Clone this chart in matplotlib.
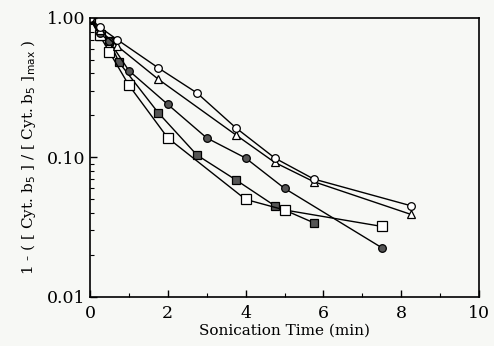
import numpy as np
import matplotlib.pyplot as plt

# open circles
t_oc = [0, 0.25, 0.7, 1.75, 2.75, 3.75, 4.75, 5.75, 8.25]
y_oc = [1.0, 0.86, 0.70, 0.44, 0.29, 0.163, 0.099, 0.070, 0.045]
# open triangles
t_tr = [0, 0.25, 0.7, 1.75, 3.75, 4.75, 5.75, 8.25]
y_tr = [1.0, 0.82, 0.63, 0.365, 0.145, 0.092, 0.067, 0.039]
# filled circles
t_fc = [0, 0.25, 0.5, 1.0, 2.0, 3.0, 4.0, 5.0, 7.5]
y_fc = [1.0, 0.78, 0.68, 0.42, 0.24, 0.138, 0.099, 0.060, 0.0225]
# filled squares
t_fs = [0, 0.25, 0.5, 0.75, 1.75, 2.75, 3.75, 4.75, 5.75]
y_fs = [1.0, 0.74, 0.68, 0.48, 0.21, 0.104, 0.069, 0.045, 0.034]
# open squares
t_os = [0, 0.25, 0.5, 1.0, 2.0, 4.0, 5.0, 7.5]
y_os = [1.0, 0.75, 0.57, 0.33, 0.138, 0.050, 0.042, 0.032]

plt.rcParams['font.family'] = 'DejaVu Serif'

fig = plt.figure(figsize=(4.94, 3.46), dpi=100, facecolor='#f7f8f5')
ax = fig.add_axes([0.182, 0.142, 0.788, 0.806])
ax.set_facecolor('#f7f8f5')

kw = dict(color='black', lw=1.0, markersize=5.5, markeredgecolor='black', markeredgewidth=0.9)
ax.plot(t_fs, y_fs, marker='s', markerfacecolor='#555555', **kw)
ax.plot(t_os, y_os, marker='s', markerfacecolor='white', markersize=6.5, color='black', lw=1.0,
        markeredgecolor='black', markeredgewidth=0.9)
ax.plot(t_fc, y_fc, marker='o', markerfacecolor='#555555', **kw)
ax.plot(t_tr, y_tr, marker='^', markerfacecolor='white', **kw)
ax.plot(t_oc, y_oc, marker='o', markerfacecolor='white', **kw)

ax.set_yscale('log')
ax.set_xlim(0, 10)
ax.set_ylim(0.01, 1.0)
ax.set_xticks([0, 2, 4, 6, 8, 10])
ax.set_xticks([1, 3, 5, 7, 9], minor=True)
ax.set_yticks([0.01, 0.1, 1.0])
ax.set_yticklabels(['0.01', '0.10', '1.00'])
ax.tick_params(which='both', direction='in', top=False, right=False, labelsize=12.5)
ax.tick_params(which='major', length=5, width=1)
ax.tick_params(which='minor', length=3, width=0.8)
ax.tick_params(axis='x', which='major', pad=6)
ax.tick_params(axis='y', which='minor', labelleft=False)
for s in ax.spines.values():
    s.set_linewidth(1.2)

ax.set_xlabel('Sonication Time (min)', fontsize=11, labelpad=1)
ax.set_ylabel(r'1 - ( [ Cyt. b$_5$ ] / [ Cyt. b$_5$ ]$_{\mathrm{max}}$ )', fontsize=11, labelpad=6)

fig.savefig('out.png', dpi=100, facecolor=fig.get_facecolor())
